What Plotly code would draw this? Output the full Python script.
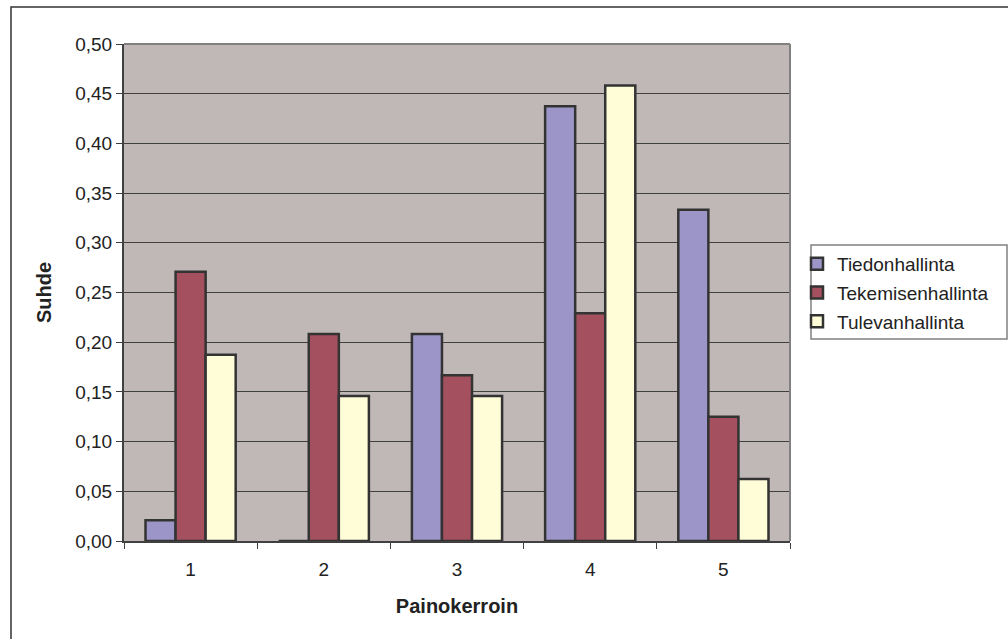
import plotly.graph_objects as go

categories = ["1", "2", "3", "4", "5"]
tiedon = [1/48, 0.0, 10/48, 21/48, 16/48]
tekemisen = [13/48, 10/48, 8/48, 11/48, 6/48]
tulevan = [9/48, 7/48, 7/48, 22/48, 3/48]
series_names = ["Tiedonhallinta", "Tekemisenhallinta", "Tulevanhallinta"]
colors = ["#9C96C8", "#A5505F", "#FFFCD8"]
y_ticks = [i * 0.05 for i in range(11)]
y_tick_text = [f"{v:.2f}".replace(".", ",") for v in y_ticks]

FONT = "Liberation Sans, Arial, sans-serif"

fig = go.Figure()
for name, vals, col in zip(series_names, [tiedon, tekemisen, tulevan], colors):
    fig.add_trace(go.Bar(
        x=categories, y=vals, name=name, legendgroup=name,
        marker=dict(color=col, line=dict(color="#333333", width=2.5)),
    ))

L, R, T, B = 124, 790, 44, 541
W, H = 1008, 639
pw, ph = R - L, B - T

def px(x):
    return (x - L) / pw

def py(y):
    return (B - y) / ph

fig.update_layout(
    width=W, height=H,
    margin=dict(l=L, r=W - R, t=T, b=H - B, autoexpand=False),
    paper_bgcolor="white",
    plot_bgcolor="#C0B8B6",
    barmode="group",
    bargap=0.323,
    bargroupgap=0,
    font=dict(family=FONT, size=19, color="#222222"),
    showlegend=True,
    legend=dict(
        x=px(797), y=py(245), xanchor="left", yanchor="top",
        borderwidth=0, bgcolor="rgba(0,0,0,0)",
        font=dict(family=FONT, size=19, color="#222222"),
        traceorder="grouped", tracegroupgap=1,
        itemwidth=30,
    ),
    xaxis=dict(
        type="category",
        showline=True, linecolor="#404040", linewidth=2,
        ticks="outside", ticklen=6, tickcolor="#404040", tickwidth=1,
        tickson="boundaries",
        showgrid=False,
        ticklabelstandoff=10,
        tickfont=dict(size=19),
        title=dict(text="<b>Painokerroin</b>", font=dict(size=20), standoff=20),
    ),
    yaxis=dict(
        range=[0, 0.5],
        tickvals=y_ticks, ticktext=y_tick_text,
        showline=True, linecolor="#404040", linewidth=2,
        ticks="outside", ticklen=6, tickcolor="#404040", tickwidth=1,
        showgrid=True, gridcolor="#404040", gridwidth=1,
        zeroline=False,
        tickfont=dict(size=19),
        title=dict(text="<b>Suhde</b>", font=dict(size=20), standoff=18),
    ),
    shapes=[
        # outer chart border (left and top visible)
        dict(type="rect", xref="paper", yref="paper",
             x0=px(11), x1=px(1012), y0=py(643), y1=py(7),
             line=dict(color="#333333", width=1.5), fillcolor="rgba(0,0,0,0)", layer="below"),
        # legend box
        dict(type="rect", xref="paper", yref="paper",
             x0=px(811), x1=px(1007), y0=py(339), y1=py(245),
             line=dict(color="#808080", width=1.5), fillcolor="white", layer="below"),
        # plot area border top/right
        dict(type="line", xref="paper", yref="paper", x0=0, x1=1, y0=1, y1=1,
             line=dict(color="#808080", width=2)),
        dict(type="line", xref="paper", yref="paper", x0=1, x1=1, y0=0, y1=1,
             line=dict(color="#808080", width=2)),
    ],
)

fig.write_html("out.html", config={"displayModeBar": False},
               post_script="document.body.style.margin='0';")
